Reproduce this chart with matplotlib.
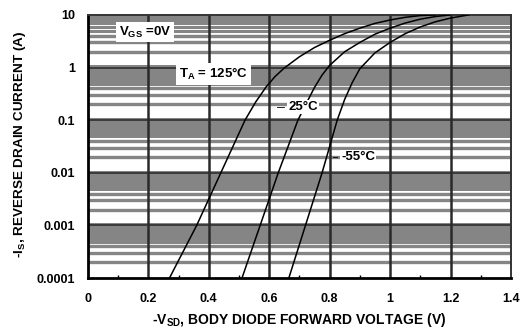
import matplotlib
matplotlib.use("Agg")
import matplotlib.pyplot as plt
from matplotlib.ticker import FixedLocator, NullFormatter

plt.rcParams["font.family"] = ["Liberation Sans", "DejaVu Sans"]
plt.rcParams["font.weight"] = "bold"
plt.rcParams["mathtext.fontset"] = "custom"
plt.rcParams["mathtext.rm"] = "Liberation Sans:bold"
plt.rcParams["mathtext.it"] = "Liberation Sans:bold"
plt.rcParams["mathtext.bf"] = "Liberation Sans:bold"
plt.rcParams["mathtext.default"] = "rm"

# body diode forward characteristics, read per temperature
v_125 = [0.27, 0.36, 0.44, 0.52, 0.555, 0.59, 0.62, 0.65, 0.70, 0.75, 0.80,
         0.85, 0.90, 0.95, 1.00, 1.05, 1.10, 1.15]
i_125 = [1e-4, 1e-3, 1e-2, 0.1, 0.22, 0.43, 0.68, 0.98, 1.6, 2.4, 3.3,
         4.4, 5.6, 6.9, 8.0, 9.0, 9.7, 10.0]

v_25 = [0.51, 0.57, 0.63, 0.695, 0.725, 0.75, 0.775, 0.80, 0.85, 0.90,
        0.95, 1.00, 1.05, 1.10, 1.15, 1.20]
i_25 = [1e-4, 1e-3, 1e-2, 0.1, 0.22, 0.42, 0.72, 1.1, 2.0, 3.0,
        4.3, 5.6, 7.0, 8.3, 9.3, 10.0]

v_m55 = [0.665, 0.72, 0.775, 0.825, 0.85, 0.875, 0.90, 0.95, 1.00, 1.05,
         1.10, 1.15, 1.20, 1.26]
i_m55 = [1e-4, 1e-3, 1e-2, 0.1, 0.25, 0.52, 0.95, 1.9, 3.0, 4.4,
         5.9, 7.4, 8.7, 10.0]

x_ticks = [0, 0.2, 0.4, 0.6, 0.8, 1.0, 1.2, 1.4]
x_labels = ["0", "0.2", "0.4", "0.6", "0.8", "1", "1.2", "1.4"]
y_ticks = [1e-4, 1e-3, 1e-2, 1e-1, 1, 10]
y_labels = ["0.0001", "0.001", "0.01", "0.1", "1", "10"]

fig = plt.figure(figsize=(5.23, 3.31), dpi=100)
ax = fig.add_axes([0.168, 0.160, 0.809, 0.795])
ax.set_yscale("log")
ax.set_xlim(0, 1.4)
ax.set_ylim(1e-4, 10)

# chart paper: shaded top of each decade plus thick minor rules
band = "#858585"
for dec in y_ticks[1:-1]:
    ax.axhspan(dec * 0.45, dec * 1.1, color=band, lw=0, zorder=0)
for dec in y_ticks[1:]:
    for m in (0.2, 0.3, 0.4):
        ax.axhline(dec * m, color=band, lw=2.4, zorder=0.5)
for m in range(2, 10):
    ax.axhline(m, color=band, lw=2.2, zorder=0.5)
for dec in y_ticks[1:-1]:
    ax.axhline(dec, color="#3a3a3a", lw=1.4, zorder=1)
for xv in x_ticks[1:-1]:
    ax.axvline(xv, color="#2a2a2a", lw=1.8, zorder=1)

for v, i in ((v_125, i_125), (v_25, i_25), (v_m55, i_m55)):
    ax.plot(v, i, color="black", lw=1.1, zorder=3)

box = dict(facecolor="white", edgecolor="none", pad=2.0)
small_box = dict(facecolor="white", edgecolor="none", pad=0.8)
ax.text(0.19, 4.7, r"V$_{GS}$ =0V", fontsize=9.5, ha="center", va="center",
        bbox=box, zorder=4)
ax.text(0.415, 0.76, r"T$_A$ = 125°C", fontsize=9.5, ha="center", va="center",
        bbox=box, zorder=4)
ax.text(0.712, 0.178, "25°C", fontsize=9.5, ha="center", va="center",
        bbox=small_box, zorder=4)
ax.plot([0.625, 0.648], [0.178, 0.178], color="black", lw=0.6, zorder=5)
ax.text(0.895, 0.02, "-55°C", fontsize=9.5, ha="center", va="center",
        bbox=small_box, zorder=4)
ax.plot([0.812, 0.826], [0.02, 0.02], color="black", lw=0.6, zorder=5)

ax.set_xticks(x_ticks)
ax.set_xticklabels(x_labels)
ax.set_yticks(y_ticks)
ax.set_yticklabels(y_labels)
ax.yaxis.set_minor_formatter(NullFormatter())
ax.yaxis.set_minor_locator(FixedLocator([]))
ax.xaxis.set_minor_locator(FixedLocator([0.1, 0.3, 0.5, 0.7, 0.9, 1.1, 1.3]))
ax.tick_params(axis="both", which="major", length=0, labelsize=9)
ax.tick_params(axis="x", which="major", pad=10.5)
ax.tick_params(axis="y", which="major", pad=9)
ax.tick_params(axis="x", which="minor", direction="in", length=2, width=1)

for side in ("left", "bottom"):
    ax.spines[side].set_linewidth(2.0)
for side in ("top", "right"):
    ax.spines[side].set_linewidth(1.4)
    ax.spines[side].set_color("#333333")

fig.text(0.572, 0.033, r"-V$_{SD}$, BODY DIODE FORWARD VOLTAGE (V)",
         fontsize=10, ha="center", va="center")
fig.text(0.038, 0.565, r"-I$_S$, REVERSE DRAIN CURRENT (A)",
         fontsize=9.7, ha="center", va="center", rotation=90)

fig.savefig("out.png", dpi=100)
